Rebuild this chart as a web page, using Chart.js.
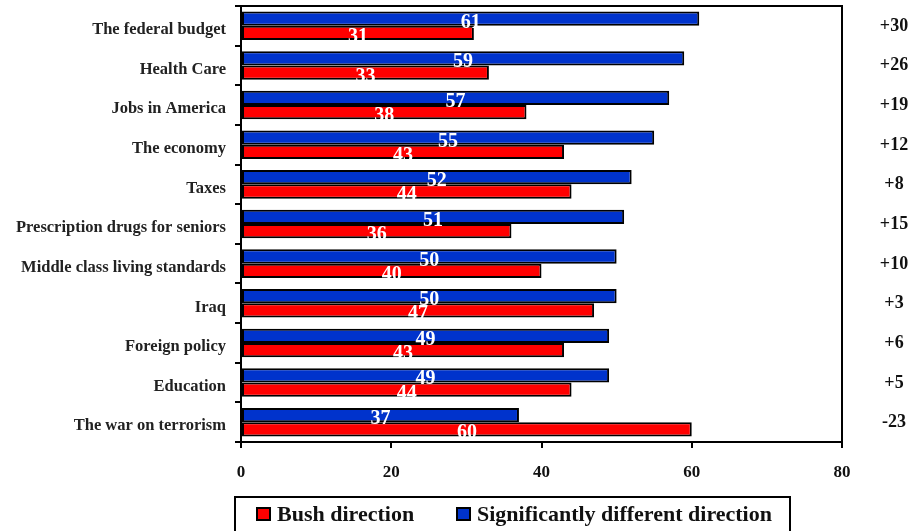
<!DOCTYPE html>
<html>
<head>
<meta charset="utf-8">
<title>Bush direction vs. significantly different direction</title>
<script src="https://cdn.jsdelivr.net/npm/chart.js@4.4.0/dist/chart.umd.min.js"></script>
<style>
    html, body { margin: 0; padding: 0; background: #fff; }
    canvas { display: block; }
</style>
</head>
<body>
<canvas id="issuesChart" width="912" height="531"></canvas>
<script>
// Issue list and percentages per answer
const issues = [
    'The federal budget',
    'Health Care',
    'Jobs in America',
    'The economy',
    'Taxes',
    'Prescription drugs for seniors',
    'Middle class living standards',
    'Iraq',
    'Foreign policy',
    'Education',
    'The war on terrorism'
];
const differentDirection = [61, 59, 57, 55, 52, 51, 50, 50, 49, 49, 37];
const bushDirection = [31, 33, 38, 43, 44, 36, 40, 47, 43, 44, 60];
const xTicks = [0, 20, 40, 60, 80];

const RED = '#ff0000';
const BLUE = '#0033cc';
const SERIF = "'Liberation Serif', 'Times New Roman', serif";

// Frame around the plot area
const frame = {
    id: 'frame',
    afterDatasetsDraw(chart) {
        const { ctx, chartArea: a } = chart;
        ctx.save();
        ctx.strokeStyle = '#000';
        ctx.lineWidth = 2;
        ctx.strokeRect(a.left, a.top, a.right - a.left, a.bottom - a.top);
        ctx.restore();
    }
};

// White numbers on the bars and the gap column on the right
const barValues = {
    id: 'barValues',
    afterDatasetsDraw(chart) {
        const { ctx, chartArea } = chart;
        ctx.save();
        ctx.font = 'bold 20px ' + SERIF;
        ctx.fillStyle = '#fff';
        ctx.textAlign = 'center';
        ctx.textBaseline = 'alphabetic';
        chart.data.datasets.forEach((ds, di) => {
            chart.getDatasetMeta(di).data.forEach((bar, i) => {
                const cx = (bar.x + bar.base) / 2;
                ctx.fillText(String(ds.data[i]), cx, bar.y + 9);
            });
        });

        const yScale = chart.scales.y;
        ctx.font = 'bold 18px ' + SERIF;
        ctx.fillStyle = '#111';
        issues.forEach((_, i) => {
            const gap = differentDirection[i] - bushDirection[i];
            const txt = (gap > 0 ? '+' : '') + gap;
            ctx.fillText(txt, chartArea.right + 52, yScale.getPixelForValue(i) + 5);
        });
        ctx.restore();
    }
};

// Boxed legend under the axis, Bush first
const boxedLegend = {
    id: 'boxedLegend',
    afterDraw(chart) {
        const { ctx } = chart;
        const items = [
            { label: chart.data.datasets[1].label, color: chart.data.datasets[1].backgroundColor, x: 257 },
            { label: chart.data.datasets[0].label, color: chart.data.datasets[0].backgroundColor, x: 457 }
        ];
        ctx.save();
        ctx.strokeStyle = '#000';
        ctx.lineWidth = 2;
        ctx.strokeRect(235, 497, 555, 44);
        ctx.font = 'bold 22px ' + SERIF;
        ctx.textAlign = 'left';
        ctx.textBaseline = 'alphabetic';
        items.forEach(it => {
            ctx.fillStyle = it.color;
            ctx.fillRect(it.x, 508, 13, 12);
            ctx.strokeRect(it.x, 508, 13, 12);
            ctx.fillStyle = '#111';
            ctx.fillText(it.label, it.x + 20, 521);
        });
        ctx.restore();
    }
};

new Chart(document.getElementById('issuesChart'), {
    type: 'bar',
    data: {
        labels: issues,
        datasets: [
            {
                label: 'Significantly different direction',
                data: differentDirection,
                backgroundColor: BLUE,
                borderColor: '#000',
                borderWidth: 2,
                borderSkipped: false,
                categoryPercentage: 0.72,
                barPercentage: 1.0
            },
            {
                label: 'Bush direction',
                data: bushDirection,
                backgroundColor: RED,
                borderColor: '#000',
                borderWidth: 2,
                borderSkipped: false,
                categoryPercentage: 0.72,
                barPercentage: 1.0
            }
        ]
    },
    options: {
        indexAxis: 'y',
        responsive: false,
        animation: false,
        layout: {
            padding: { left: 0, right: 70, top: 6, bottom: 0 }
        },
        plugins: {
            legend: { display: false },
            tooltip: { enabled: false }
        },
        scales: {
            x: {
                min: 0,
                max: 80,
                afterBuildTicks(scale) {
                    scale.ticks = xTicks.map(v => ({ value: v }));
                },
                afterFit(scale) {
                    scale.height = 89;
                },
                border: { display: false },
                grid: {
                    drawOnChartArea: false,
                    drawTicks: true,
                    tickLength: 6,
                    color: '#000',
                    lineWidth: 2
                },
                ticks: {
                    padding: 14,
                    color: '#111',
                    font: { family: SERIF, size: 17, weight: 'bold' }
                }
            },
            y: {
                afterFit(scale) {
                    scale.width = 241;
                    // no extra room for label overflow above/below the bands
                    scale.paddingTop = 0;
                    scale.paddingBottom = 0;
                },
                border: { display: false },
                grid: {
                    offset: true,
                    drawOnChartArea: false,
                    drawTicks: true,
                    tickLength: 6,
                    color: '#000',
                    lineWidth: 2
                },
                ticks: {
                    padding: 9,
                    labelOffset: 4,
                    color: '#222',
                    font: { family: SERIF, size: 16.5, weight: 'bold' }
                }
            }
        }
    },
    plugins: [frame, barValues, boxedLegend]
});
</script>
</body>
</html>
